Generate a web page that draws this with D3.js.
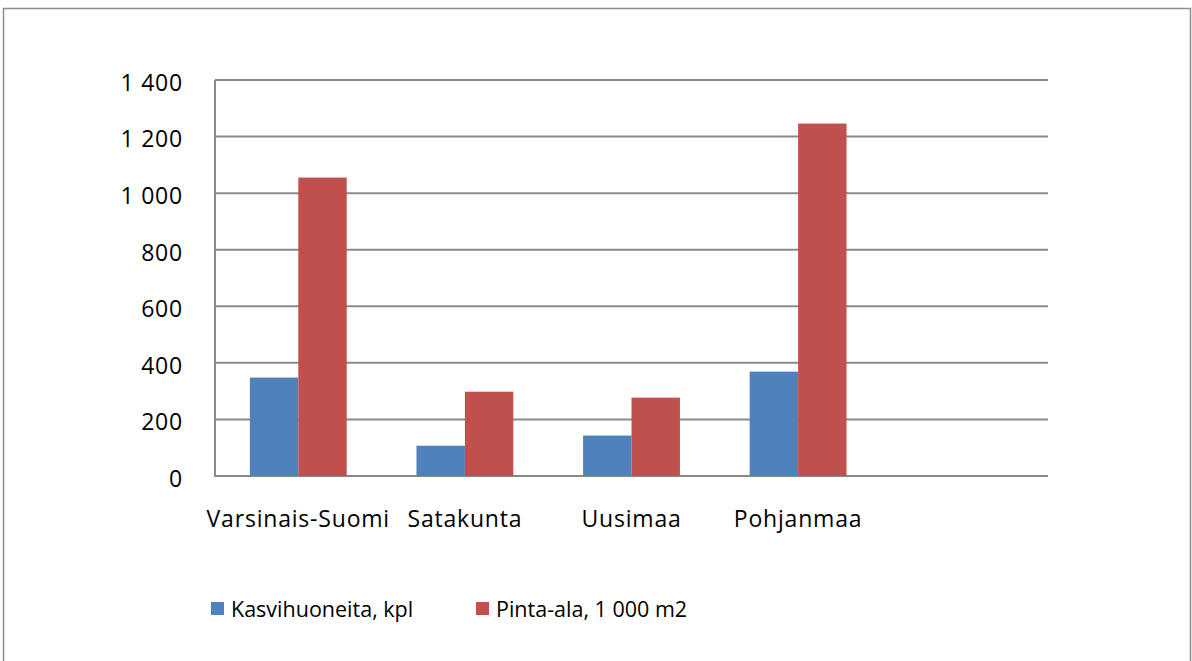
<!DOCTYPE html>
<html>
<head>
<meta charset="utf-8">
<script src="https://cdn.jsdelivr.net/npm/d3@7"></script>
<style>
  body { margin: 0; background: #fff; }
  svg text { font-family: "Open Sans", "Liberation Sans", sans-serif; fill: #000; }
</style>
</head>
<body>
<svg id="chart" width="1192" height="661"></svg>
<script>
const categories = ["Varsinais-Suomi", "Satakunta", "Uusimaa", "Pohjanmaa", ""];
const seriesNames = ["Kasvihuoneita, kpl", "Pinta-ala, 1 000 m2"];
const kasvihuoneita = [348, 107, 143, 369, null];
const pintaAla = [1055, 298, 277, 1246, null];
const yTicks = [0, 200, 400, 600, 800, 1000, 1200, 1400];
const yTickLabels = ["0", "200", "400", "600", "800", "1 000", "1 200", "1 400"];
const colors = ["#4f81bd", "#c0504d"];

const width = 1192;
const height = 661;
const marginTop = 80;
const marginRight = 144;
const marginBottom = 185;
const marginLeft = 215;

const svg = d3.select("#chart");

// outer frame
svg.append("path")
    .attr("d", `M3.5,${height + 5} V8.5 H1190.5 V${height + 5}`)
    .attr("fill", "none")
    .attr("stroke", "#8c8c8c")
    .attr("stroke-width", 1.5);

const x0 = d3.scaleBand()
    .domain(d3.range(categories.length))
    .range([marginLeft, width - marginRight])
    .padding(0);

const x1 = d3.scaleBand()
    .domain(d3.range(seriesNames.length))
    .range([0, x0.bandwidth()])
    .paddingInner(0)
    .paddingOuter(0.72);

const y = d3.scaleLinear()
    .domain([0, 1400])
    .range([height - marginBottom, marginTop]);

// gridlines
svg.append("g")
  .selectAll("line")
  .data(yTicks)
  .join("line")
    .attr("x1", marginLeft)
    .attr("x2", width - marginRight)
    .attr("y1", d => y(d))
    .attr("y2", d => y(d))
    .attr("stroke", "#8a8a8a")
    .attr("stroke-width", 2);

// y tick labels
const yAxis = svg.append("g")
    .attr("transform", `translate(${marginLeft},3)`)
    .call(d3.axisLeft(y)
        .tickValues(yTicks)
        .tickFormat((d, i) => yTickLabels[i])
        .tickSize(0)
        .tickPadding(32));
yAxis.select(".domain").remove();
yAxis.selectAll("text")
    .attr("font-size", 23)
    .style("font-family", '"Open Sans", "Liberation Sans", sans-serif')
    .style("letter-spacing", "0.8px")
    .attr("fill", "#000");

// bars
const series = [kasvihuoneita, pintaAla];
series.forEach((vals, s) => {
  svg.append("g")
    .selectAll("rect")
    .data(vals.map((v, i) => ({ i, v })).filter(d => d.v != null))
    .join("rect")
      .attr("x", d => x0(d.i) + x1(s))
      .attr("width", x1.bandwidth())
      .attr("y", d => y(d.v))
      .attr("height", d => y(0) - y(d.v))
      .attr("fill", colors[s]);
});

// vertical axis line
svg.append("line")
    .attr("x1", marginLeft)
    .attr("x2", marginLeft)
    .attr("y1", y(1400))
    .attr("y2", y(0) + 1)
    .attr("stroke", "#8a8a8a")
    .attr("stroke-width", 2);

// category labels
const xAxis = svg.append("g")
    .attr("transform", `translate(0,${y(0)})`)
    .call(d3.axisBottom(x0)
        .tickFormat(i => categories[i])
        .tickSize(0)
        .tickPadding(35));
xAxis.select(".domain").remove();
xAxis.selectAll("text")
    .attr("font-size", 23)
    .style("font-family", '"Open Sans", "Liberation Sans", sans-serif')
    .style("letter-spacing", "0.8px")
    .attr("fill", "#000");

// legend
const legendX = [211, 476];
const legend = svg.append("g");
seriesNames.forEach((name, s) => {
  legend.append("rect")
      .attr("x", legendX[s])
      .attr("y", 602)
      .attr("width", 13)
      .attr("height", 13)
      .attr("fill", colors[s]);
  legend.append("text")
      .attr("x", legendX[s] + 20)
      .attr("y", 617)
      .attr("font-size", 21.5)
      .text(name);
});
</script>
</body>
</html>
